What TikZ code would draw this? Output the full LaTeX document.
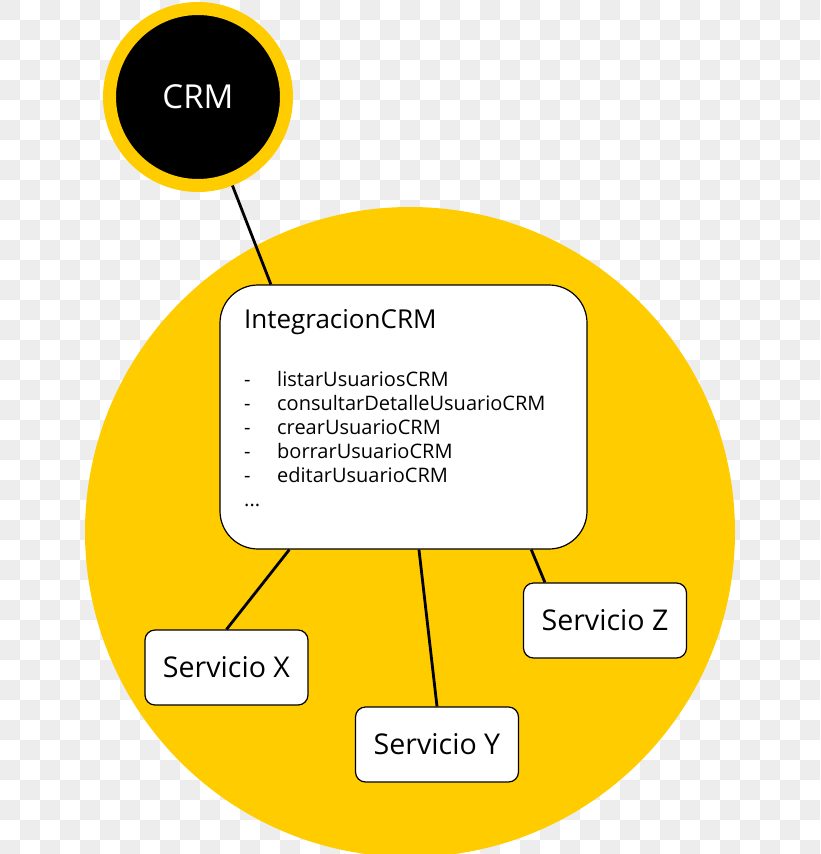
\documentclass[tikz,border=0pt]{standalone}
\usepackage{fontspec}
\setmainfont{Open Sans}
\usetikzlibrary{calc}
\definecolor{crmyellow}{RGB}{255,204,0}
\definecolor{checker}{RGB}{237,237,237}

\begin{document}
\begin{tikzpicture}[x=1pt, y=-1pt,
  crm/.style={circle, fill=black, draw=crmyellow, line width=13pt, minimum size=177pt, inner sep=0pt, text=white, font=\fontsize{33}{40}\selectfont},
  integ/.style={rectangle, rounded corners=38pt, draw, line width=1.2pt, fill=white, minimum width=367pt, minimum height=264pt, inner sep=0pt},
  svc/.style={rectangle, rounded corners=10pt, draw, line width=1.2pt, fill=white, minimum width=163pt, minimum height=75pt, inner sep=0pt, font=\fontsize{28.6}{34}\selectfont},
  txt/.style={anchor=base west, inner sep=0pt},
  edge/.style={line width=2.8pt, draw=black}
]
\useasboundingbox (0,0) rectangle (820,854);
\clip (0,0) rectangle (820,854);
% transparency checkerboard
\foreach \i in {0,...,40} {
  \foreach \j in {0,...,42} {
    \pgfmathtruncatemacro\odd{mod(\i+\j,2)}
    \ifnum\odd=0 \fill[checker] (20*\i,20*\j) rectangle ++(20,20); \fi
  }
}
\fill[crmyellow] (410,532) circle[radius=325];
\node[crm] (crm) at (198,97) {CRM};
\node[integ] (integ) at (403.5,417) {};
\node[txt, font=\fontsize{26}{30}\selectfont] (title) at (244,328) {IntegracionCRM};
\node[txt, font=\fontsize{20}{24}\selectfont] (ops) at (244,386) {%
  \begin{tabular}[t]{@{}p{33pt}@{}l@{}}
  - & listarUsuariosCRM\\
  - & consultarDetalleUsuarioCRM\\
  - & crearUsuarioCRM\\
  - & borrarUsuarioCRM\\
  - & editarUsuarioCRM\\
  ... &
  \end{tabular}};
\node[svc] (sx) at (226.5,667.5) {Servicio X};
\node[svc] (sy) at (437,744.5) {Servicio Y};
\node[svc] (sz) at (605,620.5) {Servicio Z};
\draw[edge] (crm) -- (integ.135);
\draw[edge] ($(integ.south west)!0.19!(integ.south east)$) -- (sx.north);
\draw[edge] ($(integ.south west)!0.542!(integ.south east)$) -- (sy.north);
\draw[edge] ($(integ.south west)!0.847!(integ.south east)$) -- ($(sz.north west)!0.134!(sz.north east)$);
\end{tikzpicture}
\end{document}
